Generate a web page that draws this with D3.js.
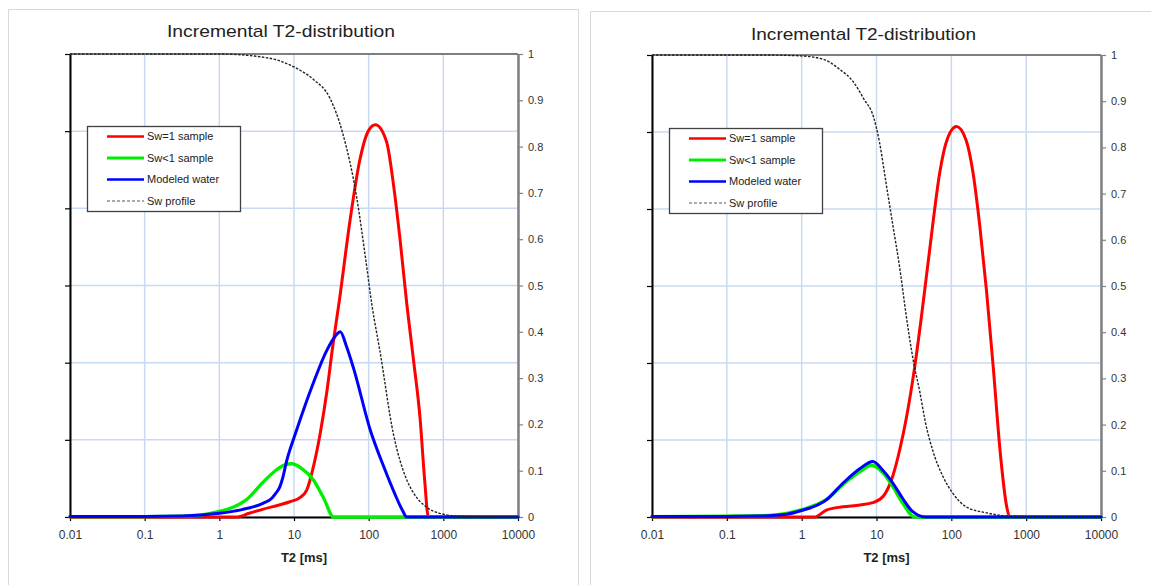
<!DOCTYPE html>
<html><head><meta charset="utf-8">
<script src="https://cdn.jsdelivr.net/npm/d3@7"></script>
<style>
html,body{margin:0;padding:0;background:#fff;}
svg{display:block;font-family:"Liberation Sans",Arial,sans-serif;}
</style></head>
<body><svg id="c" width="1151" height="585"></svg>
<script>
// ---------- DATA ----------
const chartTitle = "Incremental T2-distribution";
const xAxisTitle = "T2 [ms]";
const xTickValues = [0.01, 0.1, 1, 10, 100, 1000, 10000];
const xTickLabels = ["0.01", "0.1", "1", "10", "100", "1000", "10000"];
const yTickValues = [0, 0.1, 0.2, 0.3, 0.4, 0.5, 0.6, 0.7, 0.8, 0.9, 1];
const yTickLabels = ["0", "0.1", "0.2", "0.3", "0.4", "0.5", "0.6", "0.7", "0.8", "0.9", "1"];
const leftAxisTicks = [0, 1, 2, 3, 4, 5, 6];
const seriesNames = ["Sw=1 sample", "Sw<1 sample", "Modeled water", "Sw profile"];

// Left chart
const leftRedT  = [0.01, 1.7, 2.51, 3.89, 6.31, 8.81, 12.0, 14.8, 18.2, 22.4, 27.5, 33.1, 40.7, 56.2, 75.9, 100, 123, 174, 214, 263, 324, 398, 490, 562, 631, 10000];
const leftRedV  = [0, 0, 0.008, 0.017, 0.026, 0.033, 0.042, 0.058, 0.109, 0.18, 0.27, 0.37, 0.47, 0.64, 0.77, 0.835, 0.847, 0.81, 0.72, 0.60, 0.46, 0.34, 0.21, 0.08, 0, 0];
const leftGreenT = [0.01, 0.1, 0.32, 0.55, 1, 1.58, 2.29, 3.89, 5.62, 7.41, 9.33, 12.6, 18.2, 25.1, 33.9, 10000];
const leftGreenV = [0.001, 0.001, 0.002, 0.004, 0.012, 0.022, 0.037, 0.076, 0.1, 0.112, 0.115, 0.105, 0.08, 0.04, 0, 0];
const leftBlueT = [0.01, 0.1, 0.32, 1, 2.0, 3.89, 5.0, 5.62, 6.46, 7.08, 7.94, 10.7, 18.2, 27.5, 35.5, 41.7, 50.1, 63.1, 105, 158, 224, 282, 324, 10000];
const leftBlueV = [0.001, 0.001, 0.002, 0.008, 0.016, 0.03, 0.04, 0.05, 0.065, 0.085, 0.12, 0.185, 0.29, 0.36, 0.39, 0.40, 0.37, 0.32, 0.188, 0.11, 0.05, 0.015, 0, 0];
const leftSwT = [0.01, 1, 3.16, 6.46, 10, 18.2, 30.2, 44.7, 69.2, 93.3, 110, 141, 214, 324, 398, 589, 891, 1585, 10000];
const leftSwV = [1, 1, 0.995, 0.985, 0.972, 0.945, 0.905, 0.83, 0.69, 0.545, 0.46, 0.36, 0.18, 0.08, 0.052, 0.022, 0.008, 0.002, 0];

// Right chart
const rightRedT = [0.01, 1.48, 2.14, 3.55, 6.03, 8.91, 12.3, 16.6, 20.4, 25.1, 32.4, 39.8, 51.3, 70.8, 85.1, 117, 158, 195, 240, 295, 363, 447, 550, 603, 10000];
const rightRedV = [0, 0, 0.015, 0.022, 0.026, 0.031, 0.045, 0.09, 0.145, 0.215, 0.325, 0.433, 0.578, 0.75, 0.81, 0.845, 0.815, 0.745, 0.63, 0.49, 0.325, 0.145, 0.022, 0, 0];
const rightGreenT = [0.01, 0.1, 0.28, 0.63, 1, 2.14, 3.55, 6.03, 8.51, 12.3, 16.6, 22.4, 32.4, 10000];
const rightGreenV = [0.001, 0.002, 0.003, 0.008, 0.016, 0.038, 0.07, 0.098, 0.112, 0.095, 0.065, 0.03, 0, 0];
const rightBlueT = [0.01, 0.1, 0.28, 0.63, 1, 2.14, 3.55, 6.03, 8.91, 12.3, 16.6, 22.4, 30.2, 45.7, 10000];
const rightBlueV = [0.001, 0.001, 0.002, 0.006, 0.014, 0.037, 0.073, 0.105, 0.12, 0.10, 0.073, 0.04, 0.012, 0, 0];
const rightSwT = [0.01, 0.32, 1, 2.0, 3.16, 5.0, 6.76, 9.12, 11.0, 13.5, 16.6, 20.4, 25.1, 30.9, 38.0, 45.7, 56.2, 77.6, 105, 158, 295, 603, 10000];
const rightSwV = [1, 1, 0.998, 0.99, 0.97, 0.94, 0.905, 0.866, 0.81, 0.72, 0.63, 0.54, 0.433, 0.34, 0.27, 0.20, 0.145, 0.087, 0.051, 0.022, 0.009, 0.002, 0];

// ---------- DRAW ----------
const svg = d3.select("#c");
const zip = (t, v) => t.map((d, i) => ({t: d, v: v[i]}));

// panel frames
svg.append("rect").attr("x", 8.5).attr("y", 9.5).attr("width", 570).attr("height", 600)
  .attr("fill", "#fff").attr("stroke", "#d9d9d9");
svg.append("rect").attr("x", 590.5).attr("y", 11.5).attr("width", 600).attr("height", 600)
  .attr("fill", "#fff").attr("stroke", "#d9d9d9");

function drawChart(o) {
  const g = svg.append("g");
  const x = d3.scaleLog().domain([0.01, 10000]).range([o.x0, o.x1]);
  const y = d3.scaleLinear().domain([0, 1]).range([o.y0, o.y1]);
  const yL = d3.scaleLinear().domain([0, 6]).range([o.y0, o.y1]);

  // gridlines
  g.append("g").selectAll("line").data(xTickValues).join("line")
    .attr("x1", d => x(d)).attr("x2", d => x(d)).attr("y1", o.y0).attr("y2", o.y1)
    .attr("stroke", "#c8daf2").attr("stroke-width", 1.5);
  g.append("g").selectAll("line").data(leftAxisTicks).join("line")
    .attr("x1", o.x0).attr("x2", o.x1).attr("y1", d => yL(d)).attr("y2", d => yL(d))
    .attr("stroke", "#c8daf2").attr("stroke-width", 1.5);

  // top border
  g.append("line").attr("x1", o.x0).attr("x2", o.x1).attr("y1", o.y1).attr("y2", o.y1)
    .attr("stroke", "#7f7f7f").attr("stroke-width", 2);

  // left axis (no labels)
  const la = g.append("g").attr("transform", `translate(${o.x0},0)`)
    .call(d3.axisLeft(yL).tickValues(leftAxisTicks).tickFormat("").tickSize(5).tickSizeOuter(0));
  la.select(".domain").attr("stroke", "#000").attr("stroke-width", 2);
  la.selectAll(".tick line").attr("stroke", "#000").attr("stroke-width", 1.2);

  // right axis
  const ra = g.append("g").attr("transform", `translate(${o.x1},0)`)
    .call(d3.axisRight(y).tickValues(yTickValues).tickFormat((d, i) => yTickLabels[i]).tickSize(5).tickSizeOuter(0));
  ra.select(".domain").attr("stroke", "#808080").attr("stroke-width", 2.5);
  ra.selectAll(".tick line").attr("stroke", "#808080").attr("stroke-width", 1.2);
  ra.selectAll(".tick text").attr("x", 10).attr("font-size", 11).attr("fill", "#333")
    .attr("font-family", "Liberation Sans, Arial, sans-serif");

  // bottom axis
  const ba = g.append("g").attr("transform", `translate(0,${o.y0})`)
    .call(d3.axisBottom(x).tickValues(xTickValues).tickFormat((d, i) => xTickLabels[i]).tickSize(4).tickSizeOuter(0));
  ba.select(".domain").attr("stroke", "#000").attr("stroke-width", 2);
  ba.selectAll(".tick line").attr("stroke", "#000").attr("stroke-width", 1.2);
  ba.selectAll(".tick text").attr("y", 13).attr("dy", "0.71em").attr("font-size", 12).attr("fill", "#333")
    .attr("font-family", "Liberation Sans, Arial, sans-serif");

  // curves
  const line = d3.line().x(d => x(d.t)).y(d => y(d.v)).curve(d3.curveMonotoneX);
  const cg = g.append("g").attr("fill", "none").attr("stroke-linejoin", "round").attr("stroke-linecap", "round");
  cg.append("path").attr("d", line(zip(o.redT, o.redV))).attr("stroke", "#ff0000").attr("stroke-width", 3);
  cg.append("path").attr("d", line(zip(o.greenT, o.greenV))).attr("stroke", "#00ee00").attr("stroke-width", 3.3);
  cg.append("path").attr("d", line(zip(o.blueT, o.blueV))).attr("stroke", "#0000ff").attr("stroke-width", 3);
  cg.append("path").attr("d", line(zip(o.swT, o.swV))).attr("stroke", "#222").attr("stroke-width", 1.4)
    .attr("stroke-dasharray", "2.5,1.5").attr("stroke-linecap", "butt");

  // title
  g.append("text").attr("x", o.titleX).attr("y", o.titleY).attr("text-anchor", "middle")
    .attr("font-size", 17).attr("fill", "#222").attr("textLength", o.titleW).attr("lengthAdjust", "spacingAndGlyphs")
    .text(chartTitle);
  g.append("text").attr("x", (o.x0 + o.x1) / 2 + 10).attr("y", 562).attr("text-anchor", "middle")
    .attr("font-size", 13).attr("font-weight", "bold").attr("fill", "#222")
    .text(xAxisTitle);

  // legend
  const lg = g.append("g");
  lg.append("rect").attr("x", o.lx + 0.5).attr("y", o.ly + 0.5).attr("width", 153).attr("height", 85)
    .attr("fill", "#fff").attr("stroke", "#404040").attr("stroke-width", 1.3);
  const styles = [
    {c: "#ff0000", w: 2.5, dash: null},
    {c: "#00ee00", w: 3, dash: null},
    {c: "#0000ff", w: 2.5, dash: null},
    {c: "#555", w: 1, dash: "3,2"}
  ];
  seriesNames.forEach((n, i) => {
    const yy = o.ly + 10.5 + i * 21.5;
    const l = lg.append("line").attr("x1", o.lx + 20).attr("x2", o.lx + 57).attr("y1", yy).attr("y2", yy)
      .attr("stroke", styles[i].c).attr("stroke-width", styles[i].w);
    if (styles[i].dash) l.attr("stroke-dasharray", styles[i].dash);
    lg.append("text").attr("x", o.lx + 60).attr("y", yy).attr("dy", "0.35em")
      .attr("font-size", 11).attr("fill", "#222").text(n);
  });
}

drawChart({x0: 70, x1: 518, y0: 517, y1: 54, titleX: 281, titleY: 36.5, titleW: 228, lx: 87, ly: 126,
  redT: leftRedT, redV: leftRedV, greenT: leftGreenT, greenV: leftGreenV,
  blueT: leftBlueT, blueV: leftBlueV, swT: leftSwT, swV: leftSwV});
drawChart({x0: 652, x1: 1101, y0: 517, y1: 55, titleX: 863.5, titleY: 39.5, titleW: 225, lx: 669, ly: 128,
  redT: rightRedT, redV: rightRedV, greenT: rightGreenT, greenV: rightGreenV,
  blueT: rightBlueT, blueV: rightBlueV, swT: rightSwT, swV: rightSwV});
</script></body></html>
